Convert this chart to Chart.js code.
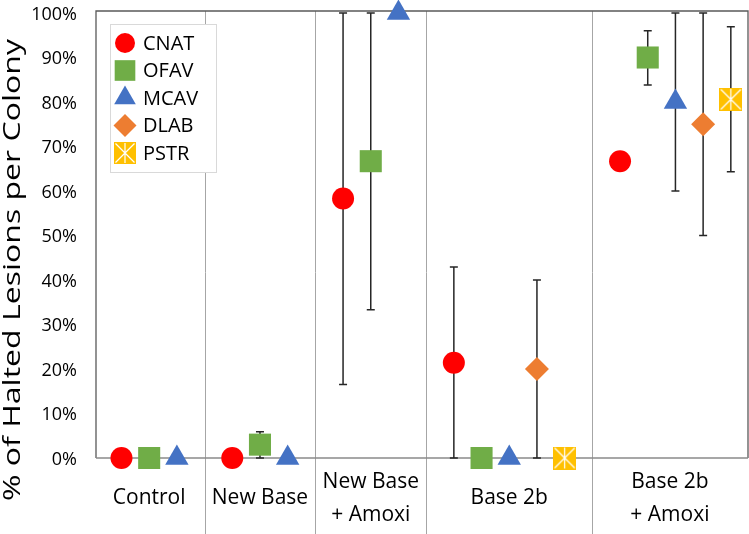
<!DOCTYPE html>
<html><head><meta charset="utf-8">
<script src="https://cdn.jsdelivr.net/npm/chart.js@4"></script>
<style>html,body{margin:0;padding:0;background:#fff;}</style>
</head><body>
<canvas id="c" width="749" height="534"></canvas>
<script>
// ---- data ----
const categories = [["Control"], ["New Base"], ["New Base", "+ Amoxi"], ["Base 2b"], ["Base 2b", "+ Amoxi"]];
const categoryStarts = [0, 4, 8, 12, 18];      // x-scale value where each group begins
const categoryCenters = [2, 6, 10, 15, 20.8];   // x-scale value of each group label
const separators = [4, 8, 12, 18];
const seriesNames = ["CNAT", "OFAV", "MCAV", "DLAB", "PSTR"];

const cnatValues = [0, 0, 58.3, 21.4, 66.7];
const ofavValues = [0, 3.0, 66.7, 0, 90];
const mcavValues = [0, 0, 100, 0, 80];
const dlabValues = [null, null, null, 20, 75];
const pstrValues = [null, null, null, 0, 80.6];

const cnatLow  = [null, null, 16.5, 0, null];
const cnatHigh = [null, null, 100, 42.9, null];
const ofavLow  = [null, 0, 33.3, null, 83.8];
const ofavHigh = [null, 5.9, 100, null, 96];
const mcavLow  = [null, null, null, null, 60];
const mcavHigh = [null, null, null, null, 100];
const dlabLow  = [null, null, null, 0, 50];
const dlabHigh = [null, null, null, 40, 100];
const pstrLow  = [null, null, null, null, 64.3];
const pstrHigh = [null, null, null, null, 96.9];

const yTicks = [0, 10, 20, 30, 40, 50, 60, 70, 80, 90, 100];
const yTitle = "% of Halted Lesions per Colony";

// ---- styling ----
const FONT = "'Open Sans', 'Noto Sans', sans-serif";
const colors = ["#FF0000", "#70AD47", "#4472C4", "#ED7D31", "#FFC000"];

function makeStarBox(size, color) {
  const c = document.createElement('canvas');
  c.width = size; c.height = size;
  const g = c.getContext('2d');
  g.fillStyle = color; g.fillRect(0, 0, size, size);
  g.strokeStyle = '#ffffff'; g.lineWidth = 1.2;
  g.beginPath();
  g.moveTo(1.5, 1.5); g.lineTo(size - 1.5, size - 1.5);
  g.moveTo(size - 1.5, 1.5); g.lineTo(1.5, size - 1.5);
  g.moveTo(size / 2, 1); g.lineTo(size / 2, size - 1);
  g.stroke();
  return c;
}
const starBox = makeStarBox(23, colors[4]);
const starBoxSmall = makeStarBox(22, colors[4]);

const markerStyles = [
  { pointStyle: 'circle', radius: 11 },
  { pointStyle: 'rect', radius: 15.6 },
  { pointStyle: 'triangle', radius: 13.5 },
  { pointStyle: 'rectRot', radius: 12 },
  { pointStyle: starBox, radius: 12 }
];
const legendStyles = [
  { pointStyle: 'circle', radius: 10 },
  { pointStyle: 'rect', radius: 14.6 },
  { pointStyle: 'triangle', radius: 12.5 },
  { pointStyle: 'rectRot', radius: 11.5 },
  { pointStyle: starBoxSmall, radius: 11 }
];

const allValues = [cnatValues, ofavValues, mcavValues, dlabValues, pstrValues];
const allLow = [cnatLow, ofavLow, mcavLow, dlabLow, pstrLow];
const allHigh = [cnatHigh, ofavHigh, mcavHigh, dlabHigh, pstrHigh];

const datasets = seriesNames.map((name, i) => ({
  label: name,
  data: allValues[i].map((v, k) => v == null ? null :
    { x: categoryStarts[k] + i + 1, y: v, lo: allLow[i][k], hi: allHigh[i][k] }).filter(Boolean),
  backgroundColor: colors[i],
  borderColor: colors[i],
  borderWidth: 0,
  pointStyle: markerStyles[i].pointStyle,
  pointRadius: markerStyles[i].radius,
  pointHoverRadius: markerStyles[i].radius,
  showLine: false,
  clip: false
}));

const framePlugin = {
  id: 'frameAndErrors',
  beforeDatasetsDraw(chart) {
    const { ctx, chartArea: a, scales: { x, y } } = chart;
    ctx.save();
    // group separators
    ctx.strokeStyle = '#A6A6A6'; ctx.lineWidth = 1;
    separators.forEach(s => {
      const px = Math.round(x.getPixelForValue(s)) + 0.5;
      ctx.beginPath(); ctx.moveTo(px, a.top); ctx.lineTo(px, chart.height); ctx.stroke();
    });
    // plot frame
    ctx.strokeStyle = '#595959'; ctx.lineWidth = 1.3;
    ctx.beginPath();
    ctx.moveTo(a.left, a.bottom); ctx.lineTo(a.left, a.top);
    ctx.lineTo(a.right, a.top); ctx.lineTo(a.right, a.bottom);
    ctx.stroke();
    ctx.strokeStyle = '#8A8A8A'; ctx.lineWidth = 1.6;
    ctx.beginPath(); ctx.moveTo(a.left, a.bottom); ctx.lineTo(a.right, a.bottom); ctx.stroke();
    // error bars
    ctx.strokeStyle = '#262626'; ctx.lineWidth = 1.5;
    chart.data.datasets.forEach(ds => {
      ds.data.forEach(p => {
        if (p.lo == null || p.hi == null) return;
        const px = x.getPixelForValue(p.x);
        const y1 = y.getPixelForValue(p.lo), y2 = y.getPixelForValue(p.hi);
        ctx.beginPath();
        ctx.moveTo(px, y1); ctx.lineTo(px, y2);
        ctx.moveTo(px - 4, y1); ctx.lineTo(px + 4, y1);
        ctx.moveTo(px - 4, y2); ctx.lineTo(px + 4, y2);
        ctx.stroke();
      });
    });
    ctx.restore();
  },
  afterDraw(chart) {
    const { ctx, chartArea: a } = chart;
    ctx.save();
    // y-axis title
    ctx.font = `23px ${FONT}`;
    ctx.fillStyle = '#000';
    const w = ctx.measureText(yTitle).width;
    const sx = 462 / w;
    ctx.translate(13, 270);
    ctx.rotate(-Math.PI / 2);
    ctx.scale(sx, 1);
    ctx.textAlign = 'center'; ctx.textBaseline = 'middle';
    ctx.fillText(yTitle, 0, 0);
    ctx.restore();

    // legend box
    ctx.save();
    const lx = a.left + 14, ly = a.top + 13, lw = 106, lh = 148;
    ctx.fillStyle = '#fff'; ctx.fillRect(lx, ly, lw, lh);
    ctx.strokeStyle = '#D9D9D9'; ctx.lineWidth = 1;
    ctx.strokeRect(lx + 0.5, ly + 0.5, lw, lh);
    ctx.font = `20px ${FONT}`;
    ctx.textBaseline = 'middle'; ctx.textAlign = 'left';
    chart.data.datasets.forEach((ds, i) => {
      const cy = ly + 19 + i * 27.5;
      const cx = lx + 15;
      ctx.fillStyle = colors[i];
      Chart.helpers.drawPoint(ctx, { pointStyle: legendStyles[i].pointStyle, radius: legendStyles[i].radius, rotation: 0, borderWidth: 0 }, cx, cy);
      ctx.fillStyle = '#000';
      ctx.fillText(ds.label, lx + 33, cy + 1);
    });
    ctx.restore();
  }
};

new Chart(document.getElementById('c'), {
  type: 'scatter',
  data: { datasets },
  options: {
    responsive: false,
    animation: false,
    devicePixelRatio: 1,
    layout: { autoPadding: false, padding: { top: 11, right: 1, left: 0, bottom: 0 } },
    plugins: { legend: { display: false }, tooltip: { enabled: false } },
    scales: {
      x: {
        type: 'linear', min: 0.08, max: 23.62,
        grid: { display: false, drawTicks: false },
        border: { display: false },
        afterBuildTicks: (s) => { s.ticks = categoryCenters.map(v => ({ value: v })); },
        afterFit: (s) => { s.height = 76; s.paddingLeft = 0; s.paddingRight = 0; },
        ticks: {
          autoSkip: false, maxRotation: 0, minRotation: 0,
          padding: 24, crossAlign: 'center',
          color: '#000',
          font: { family: FONT, size: 21, lineHeight: 1.55 },
          callback: (v, i) => categories[i]
        }
      },
      y: {
        min: 0, max: 100.45,
        grid: { display: false, drawTicks: false },
        border: { display: false },
        afterBuildTicks: (s) => { s.ticks = yTicks.map(v => ({ value: v })); },
        afterFit: (s) => { s.width = 96; s.paddingTop = 0; s.paddingBottom = 0; },
        ticks: {
          padding: 19, color: '#000', labelOffset: 1.5,
          font: { family: FONT, size: 18 },
          callback: (v) => v + '%'
        }
      }
    }
  },
  plugins: [framePlugin]
});
</script>
</body></html>
